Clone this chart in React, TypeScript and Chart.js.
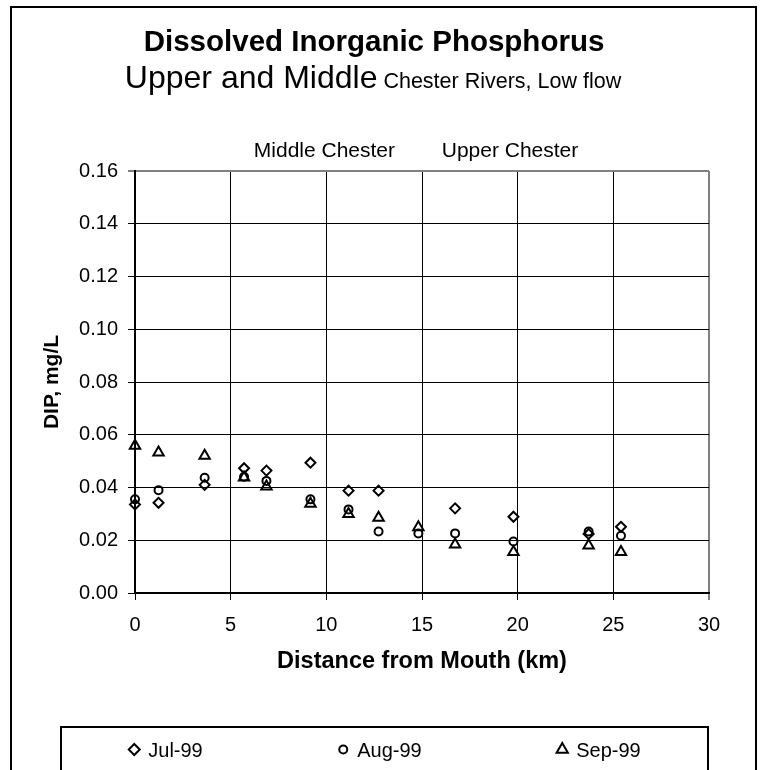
import React, { useEffect, useRef } from 'react';
import { Chart, registerables } from 'chart.js';
import { drawPoint } from 'chart.js/helpers';

Chart.register(...registerables);

// ---- data ----
const stationsKm = [0, 1.23, 3.64, 5.7, 6.87, 9.17, 11.16, 12.73, 14.81, 16.73, 19.78, 23.71, 25.4];
const jul99 = [0.0336, 0.0342, 0.041, 0.0473, 0.0464, 0.0494, 0.0388, 0.0388, null, 0.0321, 0.0289, 0.0224, 0.0251];
const aug99 = [0.0355, 0.039, 0.0437, 0.0441, 0.0425, 0.0355, 0.0317, 0.0233, 0.0226, 0.0226, 0.0195, 0.0233, 0.0217];
const sep99 = [0.0558, 0.0533, 0.052, 0.0438, 0.0404, 0.0338, 0.03, 0.0285, 0.0249, 0.0184, 0.0155, 0.018, 0.0155];
const seriesNames = ['Jul-99', 'Aug-99', 'Sep-99'];
const seriesStyles = ['rectRot', 'circle', 'triangle'];
const seriesRadius = [5, 4, 6];
const legendRadius = [5.5, 4, 6.5];
const regionLabels = ['Middle Chester', 'Upper Chester'];
const regionLabelKm = [9.9, 19.6];
const titleText = 'Dissolved Inorganic Phosphorus';
const subtitleBig = 'Upper and Middle';
const subtitleSmall = ' Chester Rivers, Low flow';
const xTitle = 'Distance from Mouth (km)';
const yTitle = 'DIP, mg/L';
const xMin = 0, xMax = 30, xStep = 5;
const yMin = 0, yMax = 0.16, yStep = 0.02;

const FONT = '"Liberation Sans", Arial, Helvetica, sans-serif';

const toPoints = (vals: (number | null)[]) =>
  stationsKm
    .map((x, i) => ({ x, y: vals[i] }))
    .filter((p) => p.y !== null) as { x: number; y: number }[];

const decorPlugin = {
  id: 'decor',
  afterDraw(chart: any) {
    const ctx: CanvasRenderingContext2D = chart.ctx;
    ctx.save();
    // outer frame
    ctx.strokeStyle = '#000';
    ctx.lineWidth = 2;
    ctx.strokeRect(11, 7, 745, 820);

    // titles
    ctx.fillStyle = '#000';
    ctx.textBaseline = 'alphabetic';
    ctx.textAlign = 'center';
    ctx.font = `bold 29.5px ${FONT}`;
    ctx.fillText(titleText, 374, 50.5);

    ctx.textAlign = 'left';
    ctx.font = `32px ${FONT}`;
    const w1 = ctx.measureText(subtitleBig).width;
    ctx.font = `21.5px ${FONT}`;
    const w2 = ctx.measureText(subtitleSmall).width;
    const sx = 373 - (w1 + w2) / 2;
    ctx.font = `32px ${FONT}`;
    ctx.fillText(subtitleBig, sx, 88);
    ctx.font = `21.5px ${FONT}`;
    ctx.fillText(subtitleSmall, sx + w1, 88);

    // region labels above the plot
    const xs = chart.scales.x;
    const top = chart.chartArea.top;
    ctx.textAlign = 'center';
    ctx.font = `21px ${FONT}`;
    regionLabels.forEach((t, i) => {
      ctx.fillText(t, xs.getPixelForValue(regionLabelKm[i]), top - 14);
    });

    // legend box
    const lx = 61, ly = 727, lw = 647;
    ctx.lineWidth = 2;
    ctx.strokeRect(lx, ly, lw, 100);
    ctx.font = `20px ${FONT}`;
    const gap = 14;
    const half = 6;
    const widths = seriesNames.map((n) => half + gap + ctx.measureText(n).width);
    const free = lw - widths.reduce((a, b) => a + b, 0);
    const slot = free / seriesNames.length;
    let cur = lx + slot / 2;
    ctx.textAlign = 'left';
    seriesNames.forEach((n, i) => {
      const mx = cur + half;
      ctx.strokeStyle = '#000';
      ctx.fillStyle = 'rgba(0,0,0,0)';
      ctx.lineWidth = 2;
      drawPoint(ctx, { pointStyle: seriesStyles[i], radius: legendRadius[i], borderWidth: 2, rotation: 0 } as any, mx, 749.5);
      ctx.fillStyle = '#000';
      ctx.fillText(n, mx + gap, 757);
      cur += widths[i] + slot;
    });
    ctx.restore();
  },
};

const isEdge = (v: number, edge: number) => Math.abs(v - edge) < 1e-9;

export default function App() {
  const ref = useRef<HTMLCanvasElement | null>(null);
  useEffect(() => {
    if (!ref.current) return;
    const all = [jul99, aug99, sep99];
    const chart = new Chart(ref.current, {
      type: 'scatter',
      data: {
        datasets: all.map((vals, i) => ({
          label: seriesNames[i],
          data: toPoints(vals),
          pointStyle: seriesStyles[i] as any,
          pointRadius: seriesRadius[i],
          pointBorderWidth: 2,
          pointBorderColor: '#000',
          pointBackgroundColor: 'rgba(0,0,0,0)',
          showLine: false,
          clip: false as any,
        })),
      },
      options: {
        responsive: false,
        animation: false,
        events: [],
        layout: { padding: { left: 0, top: 171, right: 54, bottom: 77 } },
        plugins: {
          legend: { display: false },
          title: { display: false },
          tooltip: { enabled: false },
        },
        scales: {
          x: {
            type: 'linear',
            min: xMin,
            max: xMax,
            ticks: {
              stepSize: xStep,
              color: '#000',
              font: { family: FONT, size: 20 },
              padding: 13,
              maxRotation: 0,
              autoSkip: false,
            },
            grid: {
              color: (c: any) => (c.tick && isEdge(c.tick.value, xMax) ? '#808080' : '#000'),
              lineWidth: (c: any) => (c.tick && isEdge(c.tick.value, xMax) ? 2 : 1),
              tickLength: 7,
              tickColor: '#000',
              tickWidth: 1,
            },
            border: { color: '#000', width: 2 },
            title: {
              display: true,
              text: xTitle,
              color: '#000',
              font: { family: FONT, size: 23.5, weight: 'bold' },
              padding: { top: 0, bottom: 17 },
            },
            afterFit: (s: any) => {
              s.height = 100;
            },
          },
          y: {
            type: 'linear',
            min: yMin,
            max: yMax,
            ticks: {
              stepSize: yStep,
              color: '#000',
              font: { family: FONT, size: 20 },
              padding: 10,
              callback: (v: any) => Number(v).toFixed(2),
            },
            grid: {
              color: (c: any) => (c.tick && isEdge(c.tick.value, yMax) ? '#808080' : '#000'),
              lineWidth: (c: any) => (c.tick && isEdge(c.tick.value, yMax) ? 2 : 1),
              tickLength: 7,
              tickColor: '#000',
              tickWidth: 1,
            },
            border: { color: '#000', width: 2 },
            title: {
              display: true,
              text: yTitle,
              color: '#000',
              font: { family: FONT, size: 21, weight: 'bold' },
              padding: { top: 40, bottom: 0 },
            },
            afterFit: (s: any) => {
              s.width = 135;
            },
          },
        },
      } as any,
      plugins: [decorPlugin],
    });
    return () => chart.destroy();
  }, []);
  return (
    <div style={{ position: 'absolute', left: 0, top: 0, width: 763, height: 770, background: '#fff' }}>
      <canvas ref={ref} width={763} height={770} style={{ display: 'block', width: 763, height: 770 }} />
    </div>
  );
}
